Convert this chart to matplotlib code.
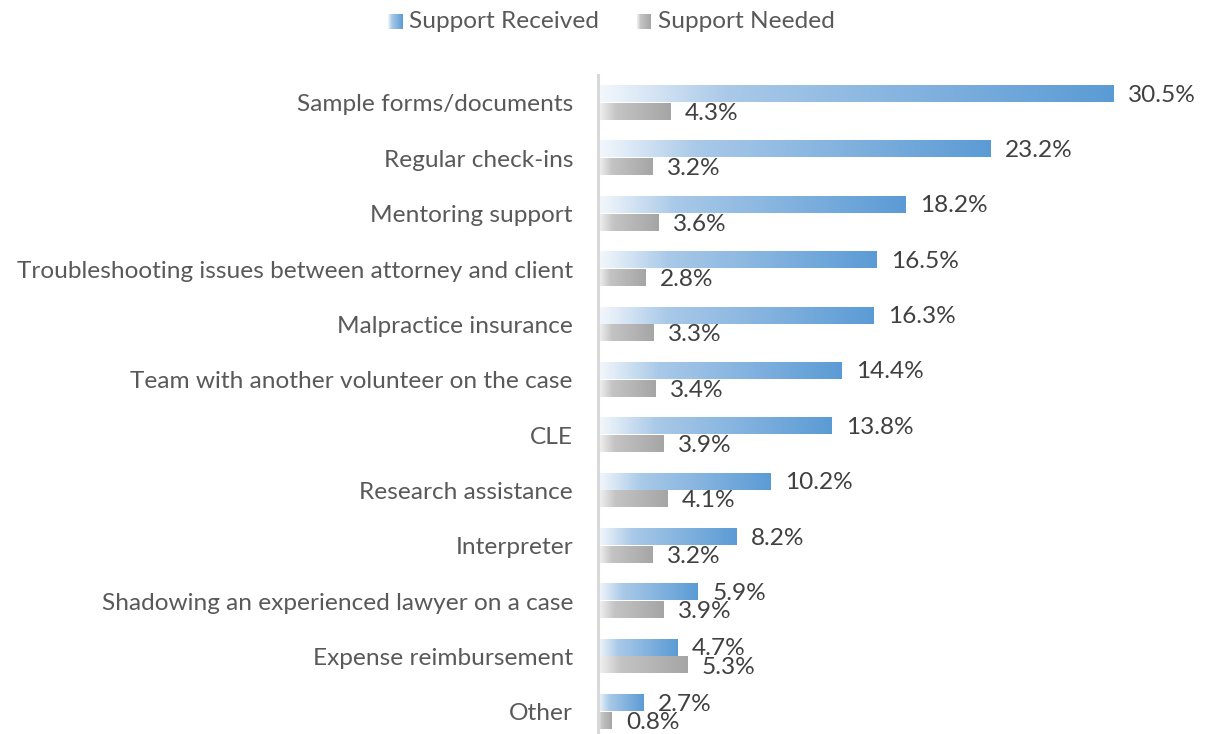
import numpy as np
import matplotlib
matplotlib.use("Agg")
import matplotlib.pyplot as plt
from matplotlib.colors import LinearSegmentedColormap

categories = [
    "Sample forms/documents",
    "Regular check-ins",
    "Mentoring support",
    "Troubleshooting issues between attorney and client",
    "Malpractice insurance",
    "Team with another volunteer on the case",
    "CLE",
    "Research assistance",
    "Interpreter",
    "Shadowing an experienced lawyer on a case",
    "Expense reimbursement",
    "Other",
]
support_received = [30.5, 23.2, 18.2, 16.5, 16.3, 14.4, 13.8, 10.2, 8.2, 5.9, 4.7, 2.7]
support_needed = [4.3, 3.2, 3.6, 2.8, 3.3, 3.4, 3.9, 4.1, 3.2, 3.9, 5.3, 0.8]
series_names = ["Support Received", "Support Needed"]

plt.rcParams["font.family"] = ["Lato", "DejaVu Sans"]
TEXT = "#595959"
FS = 17.6

blue_cmap = LinearSegmentedColormap.from_list(
    "blue_grad", [(0.0, "#f4f8fc"), (0.25, "#a9c9e8"), (1.0, "#5b9bd5")])
gray_cmap = LinearSegmentedColormap.from_list(
    "gray_grad", [(0.0, "#f4f4f4"), (0.25, "#c4c4c4"), (1.0, "#a5a5a5")])

W, H = 1205, 734
fig = plt.figure(figsize=(W / 100, H / 100), dpi=100)

# plot area in pixel terms
x_left_px, x_right_px = 598, 1139
y_top_px, y_bot_px = 75, 734
ax = fig.add_axes([x_left_px / W, 1 - y_bot_px / H,
                   (x_right_px - x_left_px) / W, (y_bot_px - y_top_px) / H])

xmax = 32.0
grad = np.linspace(0, 1, 256).reshape(1, -1)
bar_h = 0.29
offset = 0.16

def gradient_bar(y_center, value, cmap):
    ax.imshow(grad, cmap=cmap, aspect="auto", interpolation="bilinear",
              extent=(0, value, y_center + bar_h / 2, y_center - bar_h / 2),
              zorder=2)

for i, (r, n) in enumerate(zip(support_received, support_needed)):
    gradient_bar(i - offset, r, blue_cmap)
    gradient_bar(i + offset, n, gray_cmap)
    ax.text(r + 0.85, i - offset + 0.02, f"{r:.1f}%", va="center", ha="left",
            fontsize=FS, color="#404040", zorder=3)
    ax.text(n + 0.85, i + offset + 0.03, f"{n:.1f}%", va="center", ha="left",
            fontsize=FS, color="#404040", zorder=3)

ax.set_xlim(0, xmax)
ax.set_ylim(11.40, -0.505)
ax.set_yticks(range(len(categories)))
ax.set_yticklabels(categories, fontsize=FS, color=TEXT)
ax.tick_params(axis="y", length=0, pad=18)
ax.set_xticks([])
for s in ["top", "right", "bottom"]:
    ax.spines[s].set_visible(False)
ax.spines["left"].set_color("#d9d9d9")
ax.spines["left"].set_linewidth(2.2)
ax.set_facecolor("none")

# legend with gradient swatches
def legend_item(x_px, label, cmap):
    sw = fig.add_axes([x_px / W, 1 - 29 / H, 14 / W, 15 / H])
    sw.imshow(grad, cmap=cmap, aspect="auto", interpolation="bilinear")
    sw.axis("off")
    fig.text((x_px + 21) / W, 1 - 21 / H, label, fontsize=FS, color=TEXT,
             va="center", ha="left")

legend_item(388, series_names[0], blue_cmap)
legend_item(637, series_names[1], gray_cmap)

fig.savefig("out.png", dpi=100)
